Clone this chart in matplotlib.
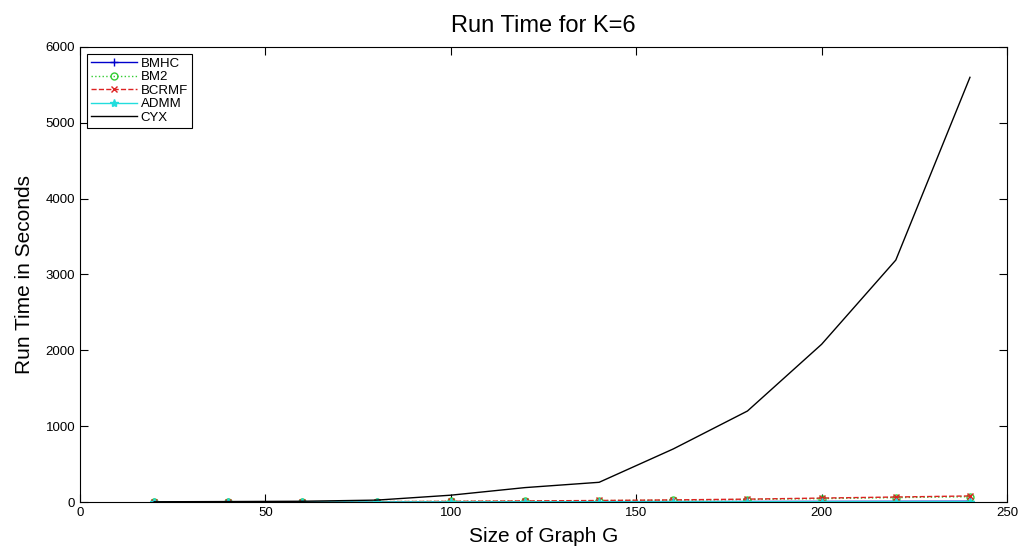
import matplotlib.pyplot as plt

plt.rcParams['font.family'] = ['Liberation Sans', 'DejaVu Sans']

# graph sizes and run times (seconds)
sizes = [20, 40, 60, 80, 100, 120, 140, 160, 180, 200, 220, 240]
bmhc = [0.5, 1, 1.5, 2, 3, 4, 5, 6, 7, 8, 9, 10]
bm2 = [1, 2, 3, 5, 8, 12, 18, 25, 33, 45, 58, 70]
bcrmf = [1, 2, 3, 5, 9, 14, 20, 28, 38, 52, 66, 80]
admm = [0.5, 0.8, 1, 1.5, 2, 2.5, 3, 3.5, 4, 4.5, 5, 5.5]
cyx = [3, 6, 10, 25, 90, 190, 260, 700, 1200, 2080, 3190, 5600]

fig = plt.figure(figsize=(10.23, 5.56), dpi=100)
ax = fig.add_axes([0.0782, 0.0971, 0.9062, 0.8184])

ax.plot(sizes, bmhc, color='#0000cc', marker='+', ms=6, linestyle='-', label='BMHC', lw=1)
ax.plot(sizes, bm2, color='#33cc33', marker='o', ms=5, markerfacecolor='none', linestyle=':', label='BM2', lw=1)
ax.plot(sizes, bcrmf, color='#dd2222', marker='x', ms=4, linestyle='--', label='BCRMF', lw=1)
ax.plot(sizes, admm, color='#22dddd', marker='*', ms=6, linestyle='-', label='ADMM', lw=1)
ax.plot(sizes, cyx, color='black', linestyle='-', label='CYX', lw=1)

ax.set_xlim(0, 250)
ax.set_ylim(0, 6000)
ax.set_xticks(range(0, 251, 50))
ax.set_yticks(range(0, 6001, 1000))
ax.tick_params(direction='in', top=True, right=True, labelsize=9.5, length=6)

ax.set_title('Run Time for K=6', fontsize=17, pad=11)
ax.set_xlabel('Size of Graph G', fontsize=15, labelpad=6)
ax.set_ylabel('Run Time in Seconds', fontsize=15, labelpad=8)

leg = ax.legend(loc='upper left', fontsize=9.5, fancybox=False, framealpha=1,
                edgecolor='black', handlelength=3.5, borderaxespad=0.5,
                labelspacing=0.1, handletextpad=0.3, borderpad=0.3)
leg.get_frame().set_linewidth(0.8)

plt.savefig('out.png')
